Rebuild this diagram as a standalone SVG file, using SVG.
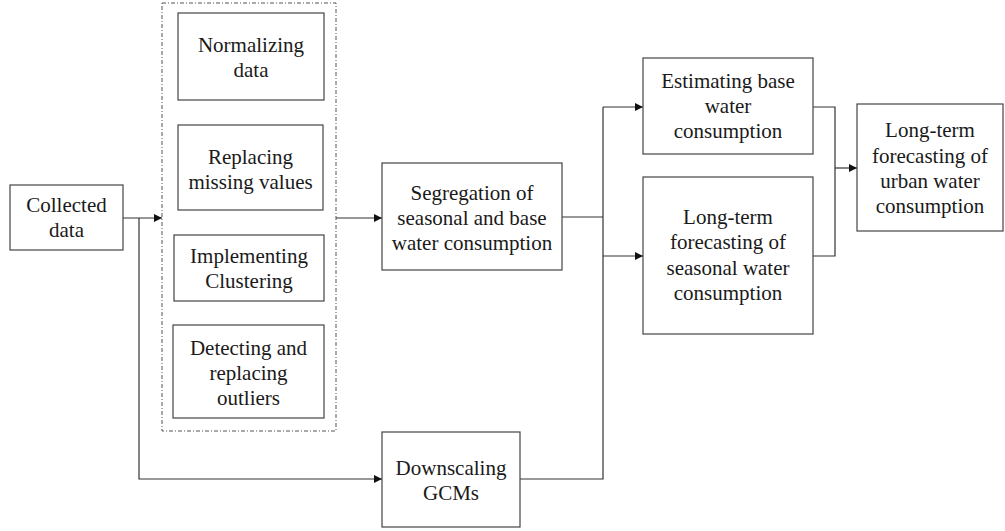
<svg xmlns="http://www.w3.org/2000/svg" width="1005" height="531" viewBox="0 0 1005 531">
<defs>
<marker id="arr" viewBox="0 0 10 10" refX="10" refY="5" markerWidth="8" markerHeight="8" markerUnits="userSpaceOnUse" orient="auto">
<path d="M0,0 L10,5 L0,10 z" fill="#111"/>
</marker>
</defs>
<style>
.box{fill:#fff;stroke:#444;stroke-width:1.2}
.grp{fill:none;stroke:#555;stroke-width:1;stroke-dasharray:4 2 1 2}
.c{fill:none;stroke:#333;stroke-width:1.2}
.a{marker-end:url(#arr)}
text{font-family:"Liberation Serif","Times New Roman",serif;font-size:21px;fill:#1a1a1a;text-anchor:middle}
</style>
<rect width="1005" height="531" fill="#fff"/>
<g id="preprocessing-group">
<rect class="grp" x="162" y="3" width="174" height="428"/>
</g>
<g id="connectors">
<path class="c a" d="M123,218 H162"/>
<path class="c a" d="M139,218 V479 H382"/>
<path class="c a" d="M336,218 H382"/>
<path class="c" d="M562,217 H603"/>
<path class="c" d="M520,479 H603 V107"/>
<path class="c a" d="M603,107 H643"/>
<path class="c a" d="M603,256 H643"/>
<path class="c" d="M813,107 H835 V256 H813"/>
<path class="c a" d="M835,168 H857"/>
</g>
<g id="collected">
<rect class="box" x="10" y="185" width="113" height="65"/>
<text x="66.5" y="212">Collected</text>
<text x="66.5" y="237">data</text>
</g>
<g id="normalizing">
<rect class="box" x="178" y="13" width="146" height="87"/>
<text x="251" y="52">Normalizing</text>
<text x="251" y="77">data</text>
</g>
<g id="replacing">
<rect class="box" x="178" y="125" width="145" height="85"/>
<text x="250.5" y="164">Replacing</text>
<text x="250.5" y="189">missing values</text>
</g>
<g id="clustering">
<rect class="box" x="174" y="235" width="150" height="66"/>
<text x="249" y="263">Implementing</text>
<text x="249" y="288">Clustering</text>
</g>
<g id="outliers">
<rect class="box" x="173" y="325" width="151" height="93"/>
<text x="248.5" y="355">Detecting and</text>
<text x="248.5" y="380">replacing</text>
<text x="248.5" y="405">outliers</text>
</g>
<g id="segregation">
<rect class="box" x="382" y="163" width="180" height="107"/>
<text x="472" y="200">Segregation of</text>
<text x="472" y="225">seasonal and base</text>
<text x="472" y="250">water consumption</text>
</g>
<g id="downscaling">
<rect class="box" x="382" y="432" width="138" height="95"/>
<text x="451" y="475">Downscaling</text>
<text x="451" y="500">GCMs</text>
</g>
<g id="base">
<rect class="box" x="643" y="58" width="170" height="96"/>
<text x="728" y="88">Estimating base</text>
<text x="728" y="113">water</text>
<text x="728" y="138">consumption</text>
</g>
<g id="seasonal">
<rect class="box" x="643" y="177" width="170" height="157"/>
<text x="728" y="224">Long-term</text>
<text x="728" y="249">forecasting of</text>
<text x="728" y="275">seasonal water</text>
<text x="728" y="300">consumption</text>
</g>
<g id="urban">
<rect class="box" x="857" y="104" width="146" height="127"/>
<text x="930" y="137">Long-term</text>
<text x="930" y="163">forecasting of</text>
<text x="930" y="188">urban water</text>
<text x="930" y="213">consumption</text>
</g>
</svg>
